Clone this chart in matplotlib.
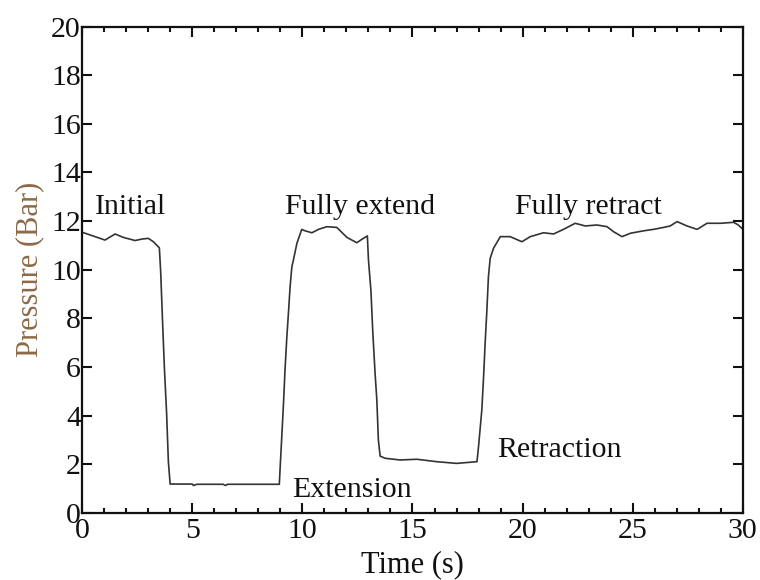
import matplotlib
matplotlib.use("Agg")
import matplotlib.pyplot as plt
from matplotlib.ticker import MultipleLocator

# Time (s) and pressure (bar)
time_s = [0.0, 1.03, 1.49, 1.86, 2.4, 2.7, 3.0, 3.23, 3.5, 3.56, 3.64, 3.73, 3.83, 3.91, 3.99,
          5.0, 5.05, 5.2, 6.4, 6.5, 6.6, 8.95,
          8.99, 9.06, 9.14, 9.21, 9.29, 9.37, 9.44, 9.52, 9.59, 9.75, 9.97, 10.12, 10.43, 10.73,
          11.11, 11.56, 12.02, 12.47, 12.7, 12.95,
          13.0, 13.11, 13.2, 13.3, 13.38, 13.45, 13.53, 13.76, 14.44, 15.2, 16.1, 17.0, 17.93,
          18.0, 18.15, 18.23, 18.3, 18.38, 18.45, 18.53, 18.68, 18.99, 19.44, 19.97, 20.35,
          20.95, 21.41, 21.86, 22.39, 22.85, 23.38, 23.84, 24.14, 24.52, 24.9, 25.5, 25.95,
          26.41, 26.71, 27.02, 27.47, 27.93, 28.38, 28.99, 29.59, 29.8, 30.0]
pressure_bar = [11.54, 11.22, 11.47, 11.33, 11.2, 11.26, 11.29, 11.15, 10.9, 9.92, 8.0, 5.94, 4.09, 2.1, 1.18,
                1.18, 1.12, 1.17, 1.17, 1.12, 1.17, 1.17,
                1.9, 3.1, 4.5, 5.9, 7.2, 8.3, 9.3, 10.12, 10.4, 11.09, 11.66, 11.6, 11.52, 11.66,
                11.77, 11.74, 11.33, 11.11, 11.25, 11.39,
                10.4, 9.16, 7.38, 5.74, 4.64, 2.99, 2.33, 2.24, 2.17, 2.2, 2.1, 2.03, 2.1,
                2.72, 4.23, 5.6, 6.97, 8.34, 9.71, 10.47, 10.88, 11.36, 11.36, 11.15, 11.36,
                11.52, 11.47, 11.66, 11.91, 11.8, 11.84, 11.77, 11.56, 11.36, 11.5, 11.6, 11.66,
                11.74, 11.8, 11.98, 11.8, 11.66, 11.91, 11.91, 11.95, 11.84, 11.67]

annotations = ["Initial", "Fully extend", "Fully retract", "Extension", "Retraction"]
annot_x = [0.58, 9.2, 19.67, 9.53, 18.85]
annot_y = [12.58, 12.58, 12.58, 0.93, 2.58]

x_ticks = [0, 5, 10, 15, 20, 25, 30]
y_ticks = [0, 2, 4, 6, 8, 10, 12, 14, 16, 18, 20]

plt.rcParams['font.family'] = ['Liberation Serif', 'DejaVu Serif']

fig = plt.figure(figsize=(7.6, 5.8), dpi=100)
ax = fig.add_axes([0.1083, 0.116, 0.8689, 0.838])

ax.plot(time_s, pressure_bar, color='#333333', lw=1.2)

for txt, xx, yy in zip(annotations, annot_x, annot_y):
    ax.text(xx, yy, txt, fontsize=21.5, ha='left', va='center', color='#111111')

ax.set_xlim(0, 30)
ax.set_ylim(0, 20)
ax.set_xticks(x_ticks)
ax.set_yticks(y_ticks)
ax.xaxis.set_minor_locator(MultipleLocator(1))

ax.tick_params(axis='both', which='both', direction='in', top=True, right=True,
               labelsize=21.5, width=1.5, colors='#111111')
ax.tick_params(axis='both', which='major', length=7.5)
ax.tick_params(axis='x', which='minor', length=3.6)
ax.tick_params(axis='y', which='major', pad=1)
ax.tick_params(axis='x', which='major', pad=3.5)

for sp in ax.spines.values():
    sp.set_linewidth(1.6)
    sp.set_color('#111111')

ax.set_xlabel('Time (s)', fontsize=22, color='#111111', labelpad=5)
ax.set_ylabel('Pressure (Bar)', fontsize=22, color='#8c6a48', labelpad=5)

fig.savefig('out.png', dpi=100)
